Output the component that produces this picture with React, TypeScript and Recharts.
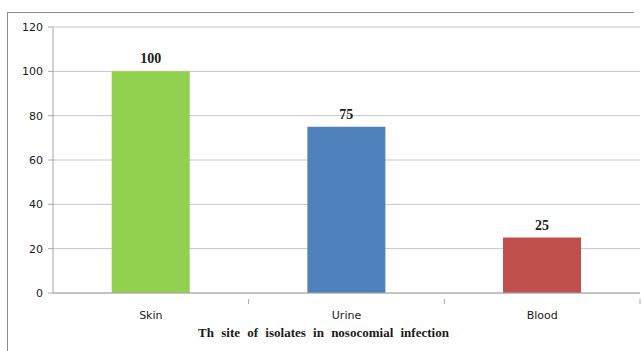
import React from "react";
import { BarChart, Bar, XAxis, YAxis, CartesianGrid, LabelList, Cell } from "recharts";

const sites = ["Skin", "Urine", "Blood"];
const isolates = [100, 75, 25];
const barColors = ["#92D050", "#4F81BD", "#C0504D"];
const yTicks = [0, 20, 40, 60, 80, 100, 120];

const data = sites.map((site, i) => ({ site, value: isolates[i] }));

const WIDTH = 643;
const HEIGHT = 351;
const AXIS_GRAY = "#A6A6A6";

// category label plus a divider tick on the right edge of each band
function SiteTick(props: any) {
  const { x, y, payload, index, visibleTicksCount } = props;
  const plotLeft = 53;
  const plotRight = 640;
  const band = (plotRight - plotLeft) / (visibleTicksCount || sites.length);
  const edge = plotLeft + band * (index + 1);
  return (
    <g>
      <line x1={edge} y1={y - 2} x2={edge} y2={y + 3} stroke={AXIS_GRAY} strokeWidth={1} />
      <text
        x={x}
        y={y + 18}
        textAnchor="middle"
        fontFamily="DejaVu Sans, Verdana, sans-serif"
        fontSize={11}
        fill="#1a1a1a"
      >
        {payload.value}
      </text>
    </g>
  );
}

export default function App() {
  return (
    <div style={{ position: "absolute", left: 0, top: 0, width: WIDTH, height: HEIGHT, background: "#fff" }}>
      <div
        style={{
          position: "absolute",
          left: 7,
          top: 12,
          width: 626,
          height: HEIGHT - 12,
          borderLeft: "1px solid #8c8c8c",
          borderTop: "1px solid #8c8c8c",
        }}
      />
      <BarChart
        width={WIDTH}
        height={HEIGHT}
        data={data}
        margin={{ top: 27, right: 3, bottom: 10, left: 0 }}
        barCategoryGap="30%"
        style={{ position: "absolute", left: 0, top: 0 }}
      >
        <CartesianGrid vertical={false} stroke="#C4C4C4" strokeWidth={1} />
        <XAxis
          dataKey="site"
          height={48}
          axisLine={{ stroke: AXIS_GRAY }}
          tickLine={false}
          tick={<SiteTick />}
          interval={0}
          label={{
            value: "Th site of isolates in nosocomial infection",
            position: "insideBottom",
            offset: 4,
            dx: -23,
            style: {
              fontFamily: "Liberation Serif, Times New Roman, serif",
              fontWeight: "bold",
              fontSize: 13,
              fill: "#1a1a1a",
              wordSpacing: 4,
            },
          }}
        />
        <YAxis
          width={53}
          domain={[0, 120]}
          ticks={yTicks}
          interval={0}
          axisLine={{ stroke: AXIS_GRAY }}
          tickLine={{ stroke: AXIS_GRAY }}
          tickSize={5}
          tickMargin={5}
          tick={{ fontFamily: "DejaVu Sans, Verdana, sans-serif", fontSize: 11, fill: "#1a1a1a" }}
        />
        <Bar dataKey="value" isAnimationActive={false}>
          {data.map((d, i) => (
            <Cell key={d.site} fill={barColors[i]} />
          ))}
          <LabelList
            dataKey="value"
            position="top"
            offset={8}
            style={{
              fontFamily: "Liberation Serif, Times New Roman, serif",
              fontWeight: "bold",
              fontSize: 14,
              fill: "#1a1a1a",
            }}
          />
        </Bar>
      </BarChart>
    </div>
  );
}
